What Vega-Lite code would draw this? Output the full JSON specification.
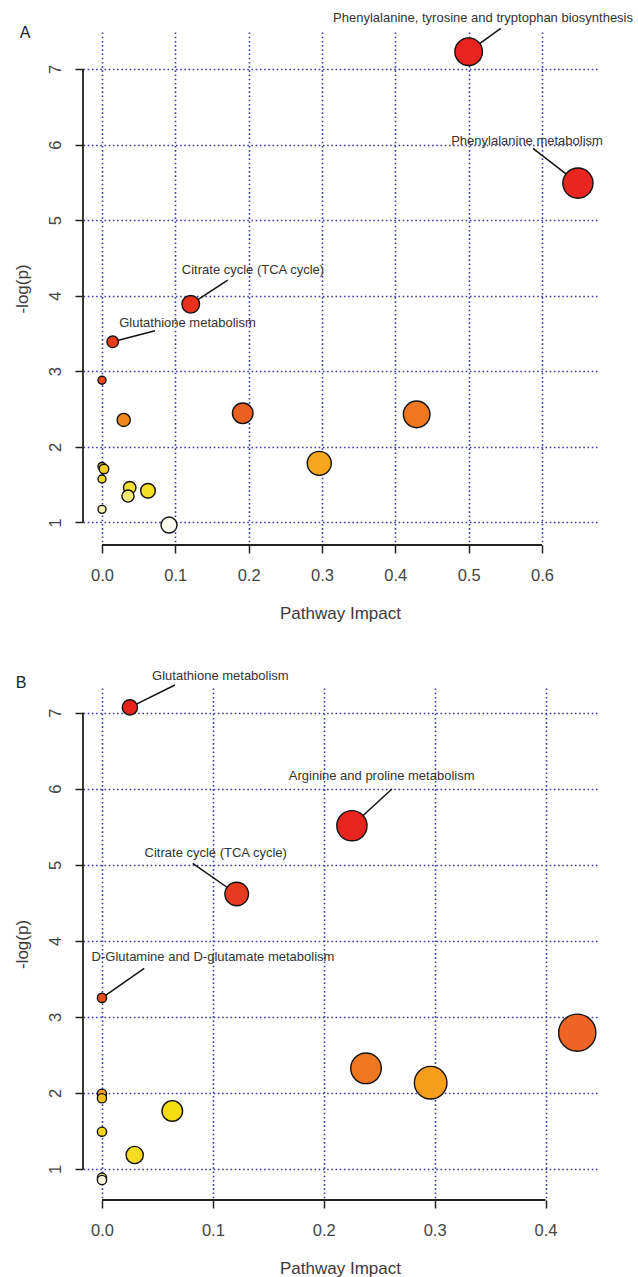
{
  "$schema": "https://vega.github.io/schema/vega-lite/v6.json",
  "autosize": {"type": "none"},
  "padding": {"left": 83, "top": 32, "right": 555, "bottom": 1245},
  "background": "white",
  "config": {
    "view": {"stroke": null},
    "axis": {
      "labelFont": "Liberation Sans", "labelFontSize": 16.5, "labelColor": "#444",
      "titleFont": "Liberation Sans", "titleFontSize": 17, "titleFontWeight": "normal", "titleColor": "#3a3a3a",
      "domain": false, "tickColor": "#222", "tickWidth": 1.5, "tickSize": 8,
      "gridColor": "#3a3aa4", "gridDash": [1.6, 2.6], "gridWidth": 1.6, "gridOpacity": 1
    }
  },
  "datasets": {
    "ptsA": [
      {"x": 0.500, "y": 7.23},
      {"x": 0.649, "y": 5.49},
      {"x": 0.121, "y": 3.886},
      {"x": 0.0146, "y": 3.39},
      {"x": 0, "y": 2.88},
      {"x": 0.0296, "y": 2.355},
      {"x": 0.1919, "y": 2.443},
      {"x": 0.4291, "y": 2.429},
      {"x": 0.2963, "y": 1.781},
      {"x": 0, "y": 1.74},
      {"x": 0.0027, "y": 1.706},
      {"x": 0, "y": 1.573},
      {"x": 0.0378, "y": 1.458},
      {"x": 0.0355, "y": 1.348},
      {"x": 0.0627, "y": 1.418},
      {"x": 0, "y": 1.172},
      {"x": 0.0914, "y": 0.964}
    ],
    "labA": [
      {"label": "Phenylalanine, tyrosine and tryptophan biosynthesis", "px": 0.500, "py": 7.23, "ex": 0.5437, "ey": 7.539, "lx": 0.5196, "ly": 7.675},
      {"label": "Phenylalanine metabolism", "px": 0.649, "py": 5.49, "ex": 0.5877, "ey": 5.95, "lx": 0.5796, "ly": 6.047},
      {"label": "Citrate cycle (TCA cycle)", "px": 0.121, "py": 3.886, "ex": 0.1714, "ey": 4.207, "lx": 0.2059, "ly": 4.339},
      {"label": "Glutathione metabolism", "px": 0.0146, "py": 3.39, "ex": 0.0723, "ey": 3.536, "lx": 0.1166, "ly": 3.634}
    ],
    "ptsB": [
      {"x": 0.0252, "y": 7.07},
      {"x": 0.2254, "y": 5.514},
      {"x": 0.1215, "y": 4.616},
      {"x": 0, "y": 3.25},
      {"x": 0, "y": 1.99},
      {"x": 0, "y": 1.93},
      {"x": 0, "y": 1.49},
      {"x": 0, "y": 0.886},
      {"x": 0, "y": 0.855},
      {"x": 0.0295, "y": 1.184},
      {"x": 0.0634, "y": 1.763},
      {"x": 0.2381, "y": 2.324},
      {"x": 0.2964, "y": 2.135},
      {"x": 0.4286, "y": 2.792}
    ],
    "labB": [
      {"label": "Glutathione metabolism", "px": 0.0252, "py": 7.07, "ex": 0.0658, "ey": 7.364, "lx": 0.1068, "ly": 7.487},
      {"label": "Arginine and proline metabolism", "px": 0.2254, "py": 5.514, "ex": 0.2615, "ey": 5.997, "lx": 0.2522, "ly": 6.168},
      {"label": "Citrate cycle (TCA cycle)", "px": 0.1215, "py": 4.616, "ex": 0.0818, "ey": 5.02, "lx": 0.1026, "ly": 5.151},
      {"label": "D-Glutamine and D-glutamate metabolism", "px": 0, "py": 3.25, "ex": 0.0381, "ey": 3.639, "lx": 0.1001, "ly": 3.792}
    ]
  },
  "bounds": "flush",
  "spacing": 143,
  "resolve": {"scale": {"x": "independent", "y": "independent", "color": "independent", "size": "independent"}},
  "vconcat": [
    {
      "width": 514, "height": 513,
      "layer": [
        {
          "data": {"name": "ptsA"},
          "mark": {"type": "circle", "opacity": 0},
          "encoding": {
            "x": {"field": "x", "type": "quantitative", "title": "Pathway Impact",
                  "scale": {"domain": [-0.0259, 0.675], "nice": false, "zero": false},
                  "axis": {"values": [0, 0.1, 0.2, 0.3, 0.4, 0.5, 0.6], "format": ".1f", "labelPadding": 14, "titleY": 68, "titleBaseline": "middle"}},
            "y": {"field": "y", "type": "quantitative", "title": "-log(p)",
                  "scale": {"domain": [0.70, 7.49], "nice": false, "zero": false},
                  "axis": {"values": [1, 2, 3, 4, 5, 6, 7], "format": "d", "labelAngle": -90, "labelPadding": 12, "titleX": -61, "titleBaseline": "middle"}}
          }
        },
        {
          "data": {"name": "labA"},
          "mark": {"type": "rule", "color": "#111", "strokeWidth": 1.5},
          "encoding": {
            "x": {"field": "px", "type": "quantitative", "title": "Pathway Impact"},
            "x2": {"field": "ex"},
            "y": {"field": "py", "type": "quantitative", "title": "-log(p)"},
            "y2": {"field": "ey"}
          }
        },
        {
          "data": {"values": [{}]},
          "mark": {"type": "rule", "color": "#222", "strokeWidth": 1.8},
          "encoding": {
            "x": {"datum": -0.0259, "type": "quantitative", "title": "Pathway Impact"},
            "y": {"datum": 1, "type": "quantitative", "title": "-log(p)"},
            "y2": {"datum": 7}
          }
        },
        {
          "data": {"values": [{}]},
          "mark": {"type": "rule", "color": "#222", "strokeWidth": 1.8},
          "encoding": {
            "y": {"datum": 0.70, "type": "quantitative", "title": "-log(p)"},
            "x": {"datum": 0, "type": "quantitative", "title": "Pathway Impact"},
            "x2": {"datum": 0.6}
          }
        },
        {
          "data": {"name": "ptsA"},
          "mark": {"type": "circle", "stroke": "#111", "strokeWidth": 1.4, "opacity": 1},
          "encoding": {
            "x": {"field": "x", "type": "quantitative", "title": "Pathway Impact"},
            "y": {"field": "y", "type": "quantitative", "title": "-log(p)"},
            "size": {"field": "x", "type": "quantitative", "legend": null,
                     "scale": {"domain": [0, 0.0027, 0.0146, 0.0296, 0.0355, 0.0627, 0.0914, 0.121, 0.1919, 0.2963, 0.4291, 0.5, 0.649],
                               "range": [64, 92, 135, 174, 149, 213, 256, 310, 424, 576, 708, 762, 912]}},
            "color": {"field": "y", "type": "quantitative", "legend": null,
                      "scale": {"domain": [0.964, 1.172, 1.348, 1.418, 1.458, 1.573, 1.706, 1.74, 1.781, 2.355, 2.429, 2.443, 2.88, 3.39, 3.886, 5.49, 7.23],
                                "range": ["#fdfdf0", "#f6f0b0", "#f6e872", "#f3df26", "#f4e030", "#f3d622", "#f4d01e", "#ebb21e", "#f6a61c", "#f0861c", "#ee761f", "#ea601e", "#e84c1c", "#e63c1c", "#e8321e", "#e8261f", "#e8221f"],
                                "interpolate": "rgb"}}
          }
        },
        {
          "data": {"name": "labA"},
          "mark": {"type": "text", "font": "Liberation Sans", "fontSize": 13, "color": "#333", "align": "center", "baseline": "middle"},
          "encoding": {
            "x": {"field": "lx", "type": "quantitative", "title": "Pathway Impact"},
            "y": {"field": "ly", "type": "quantitative", "title": "-log(p)"},
            "text": {"field": "label"}
          }
        },
        {
          "data": {"values": [{"panel": "A"}]},
          "mark": {"type": "text", "font": "Liberation Sans", "fontSize": 16, "color": "#222", "align": "center", "baseline": "middle"},
          "encoding": {
            "x": {"datum": -0.105, "type": "quantitative", "title": "Pathway Impact"},
            "y": {"datum": 7.476, "type": "quantitative", "title": "-log(p)"},
            "text": {"field": "panel"}
          }
        }
      ]
    },
    {
      "width": 514, "height": 512,
      "layer": [
        {
          "data": {"name": "ptsB"},
          "mark": {"type": "circle", "opacity": 0},
          "encoding": {
            "x": {"field": "x", "type": "quantitative", "title": "Pathway Impact",
                  "scale": {"domain": [-0.0171, 0.4464], "nice": false, "zero": false},
                  "axis": {"values": [0, 0.1, 0.2, 0.3, 0.4], "format": ".1f", "labelPadding": 14, "titleY": 68, "titleBaseline": "middle"}},
            "y": {"field": "y", "type": "quantitative", "title": "-log(p)",
                  "scale": {"domain": [0.592, 7.325], "nice": false, "zero": false},
                  "axis": {"values": [1, 2, 3, 4, 5, 6, 7], "format": "d", "labelAngle": -90, "labelPadding": 12, "titleX": -61, "titleBaseline": "middle"}}
          }
        },
        {
          "data": {"name": "labB"},
          "mark": {"type": "rule", "color": "#111", "strokeWidth": 1.5},
          "encoding": {
            "x": {"field": "px", "type": "quantitative", "title": "Pathway Impact"},
            "x2": {"field": "ex"},
            "y": {"field": "py", "type": "quantitative", "title": "-log(p)"},
            "y2": {"field": "ey"}
          }
        },
        {
          "data": {"values": [{}]},
          "mark": {"type": "rule", "color": "#222", "strokeWidth": 1.8},
          "encoding": {
            "x": {"datum": -0.0171, "type": "quantitative", "title": "Pathway Impact"},
            "y": {"datum": 1, "type": "quantitative", "title": "-log(p)"},
            "y2": {"datum": 7}
          }
        },
        {
          "data": {"values": [{}]},
          "mark": {"type": "rule", "color": "#222", "strokeWidth": 1.8},
          "encoding": {
            "y": {"datum": 0.592, "type": "quantitative", "title": "-log(p)"},
            "x": {"datum": 0, "type": "quantitative", "title": "Pathway Impact"},
            "x2": {"datum": 0.4}
          }
        },
        {
          "data": {"name": "ptsB"},
          "mark": {"type": "circle", "stroke": "#111", "strokeWidth": 1.4, "opacity": 1},
          "encoding": {
            "x": {"field": "x", "type": "quantitative", "title": "Pathway Impact"},
            "y": {"field": "y", "type": "quantitative", "title": "-log(p)"},
            "size": {"field": "x", "type": "quantitative", "legend": null,
                     "scale": {"domain": [0, 0.0252, 0.0295, 0.0634, 0.1215, 0.2254, 0.2964, 0.4286],
                               "range": [85, 231, 296, 424, 557, 912, 1063, 1384]}},
            "color": {"field": "y", "type": "quantitative", "legend": null,
                      "scale": {"domain": [0.855, 0.886, 1.184, 1.49, 1.763, 1.93, 1.99, 2.135, 2.324, 2.792, 3.25, 4.616, 5.514, 7.07],
                                "range": ["#f8f5d8", "#efe29a", "#f5dc22", "#f4d41e", "#f8dc12", "#f4bf1e", "#e9a02a", "#f89e1c", "#ee7822", "#ee6424", "#e84c1c", "#e83a1e", "#e8241f", "#e8241f"],
                                "interpolate": "rgb"}}
          }
        },
        {
          "data": {"name": "labB"},
          "mark": {"type": "text", "font": "Liberation Sans", "fontSize": 13, "color": "#333", "align": "center", "baseline": "middle"},
          "encoding": {
            "x": {"field": "lx", "type": "quantitative", "title": "Pathway Impact"},
            "y": {"field": "ly", "type": "quantitative", "title": "-log(p)"},
            "text": {"field": "label"}
          }
        },
        {
          "data": {"values": [{"panel": "B"}]},
          "mark": {"type": "text", "font": "Liberation Sans", "fontSize": 16, "color": "#222", "align": "center", "baseline": "middle"},
          "encoding": {
            "x": {"datum": -0.073, "type": "quantitative", "title": "Pathway Impact"},
            "y": {"datum": 7.39, "type": "quantitative", "title": "-log(p)"},
            "text": {"field": "panel"}
          }
        }
      ]
    }
  ]
}
